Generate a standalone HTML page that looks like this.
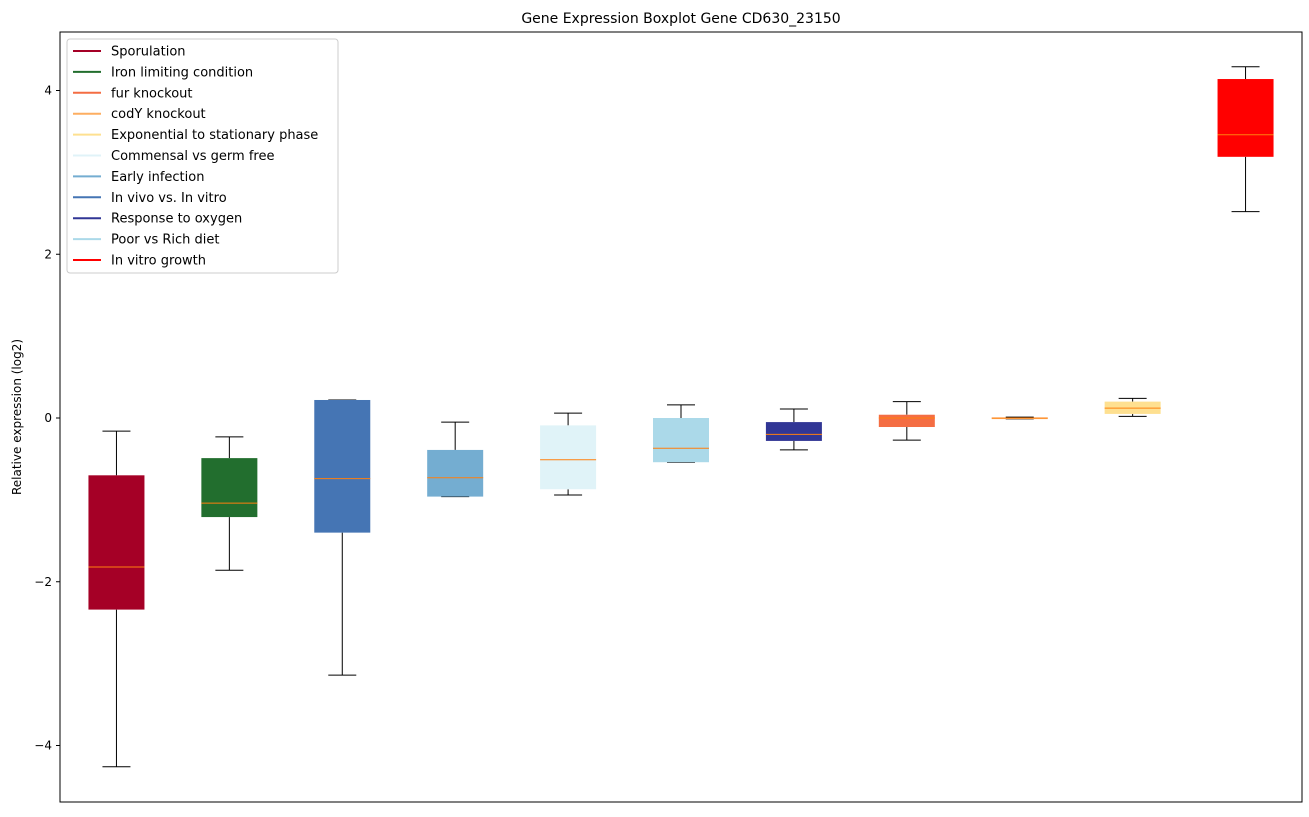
<!DOCTYPE html>
<html><head><meta charset="utf-8"><style>
body{margin:0;background:#fff;font-family:"Liberation Sans","DejaVu Sans",sans-serif;}
svg text{font-family:"DejaVu Sans","Liberation Sans",sans-serif;}
</style></head><body>
<svg id="chart" width="1309" height="812" xmlns="http://www.w3.org/2000/svg"></svg>
<script>
const names=["Sporulation","Iron limiting condition","In vivo vs. In vitro","Early infection","Commensal vs germ free","Poor vs Rich diet","Response to oxygen","fur knockout","codY knockout","Exponential to stationary phase","In vitro growth"];
const colors=["#a50026","#226e2e","#4575b4","#74add1","#e0f3f8","#abd9e9","#313695","#f46d43","#fdae61","#fee090","#ff0000"];
const whiskerHigh=[-0.16,-0.23,0.22,-0.05,0.06,0.16,0.11,0.2,0.01,0.24,4.29];
const q3=[-0.70,-0.49,0.22,-0.39,-0.09,0.0,-0.05,0.04,0.005,0.2,4.14];
const medians=[-1.82,-1.04,-0.74,-0.73,-0.51,-0.37,-0.2,0.0,0.0,0.12,3.46];
const q1=[-2.34,-1.21,-1.40,-0.96,-0.87,-0.54,-0.28,-0.11,-0.005,0.05,3.19];
const whiskerLow=[-4.26,-1.86,-3.14,-0.96,-0.94,-0.54,-0.39,-0.27,-0.01,0.02,2.52];
const legendNames=["Sporulation","Iron limiting condition","fur knockout","codY knockout","Exponential to stationary phase","Commensal vs germ free","Early infection","In vivo vs. In vitro","Response to oxygen","Poor vs Rich diet","In vitro growth"];
const legendColors=["#a50026","#226e2e","#f46d43","#fdae61","#fee090","#e0f3f8","#74add1","#4575b4","#313695","#abd9e9","#ff0000"];
const yTicks=[-4,-2,0,2,4];

const svg=document.getElementById('chart');const NS="http://www.w3.org/2000/svg";
const L=60,R=1302,T=32,B=802;
const x=i=>L+(i+0.5)*(R-L)/names.length;
const y=v=>418-v*81.875;
function mk(t,a,p){const e=document.createElementNS(NS,t);for(const k in a)e.setAttribute(k,a[k]);(p||svg).appendChild(e);return e;}
const title=mk('text',{x:681,y:23,'text-anchor':'middle','font-size':14});title.textContent="Gene Expression Boxplot Gene CD630_23150";


const yl=mk('text',{x:21,y:417,'text-anchor':'middle','font-size':12,transform:'rotate(-90 21 417)'});yl.textContent="Relative expression (log2)";


yTicks.forEach(t=>{const g=mk('g',{});


mk('line',{x1:L-4,x2:L,y1:y(t),y2:y(t),stroke:'#000'},g);
const tx=mk('text',{x:L-8,y:y(t)+4,'text-anchor':'end','font-size':12},g);tx.textContent=t<0?"\u2212"+(-t):t;});
const hw=28,cw=14;
names.forEach((n,i)=>{const g=mk('g',{});


const cx=x(i);
mk('line',{x1:cx,x2:cx,y1:y(whiskerHigh[i]),y2:y(q3[i]),stroke:'#000'},g);
mk('line',{x1:cx,x2:cx,y1:y(q1[i]),y2:y(whiskerLow[i]),stroke:'#000'},g);
mk('line',{x1:cx-cw,x2:cx+cw,y1:y(whiskerHigh[i]),y2:y(whiskerHigh[i]),stroke:'#000'},g);
mk('line',{x1:cx-cw,x2:cx+cw,y1:y(whiskerLow[i]),y2:y(whiskerLow[i]),stroke:'#000'},g);
const h=Math.max(1.5,y(q1[i])-y(q3[i]));
mk('rect',{x:cx-hw,y:y(q3[i]),width:2*hw,height:h,fill:colors[i]},g);
mk('line',{x1:cx-hw,x2:cx+hw,y1:y(medians[i]),y2:y(medians[i]),stroke:'#ff7f0e'},g);
});
mk('rect',{x:L,y:T,width:R-L,height:B-T,fill:'none',stroke:'#000'});
const lg=mk('g',{});


mk('rect',{x:67,y:39,width:271,height:234,rx:3,fill:'#fff',stroke:'#ccc'},lg);
legendNames.forEach((n,i)=>{const g=mk('g',{},lg);


const yy=51+i*20.9;
mk('line',{x1:73,x2:101,y1:yy,y2:yy,stroke:legendColors[i],'stroke-width':2},g);
const t=mk('text',{x:111,y:yy+4.5,'font-size':13},g);t.textContent=n;});
</script>
</body></html>
